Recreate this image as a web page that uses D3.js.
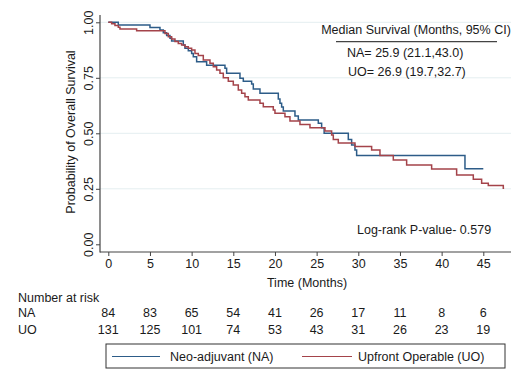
<!DOCTYPE html>
<html><head><meta charset="utf-8">
<script src="https://cdn.jsdelivr.net/npm/d3@7"></script>
<style>
html,body{margin:0;padding:0;background:#fff;}
text{font-family:"Liberation Sans",Arial,sans-serif;fill:#1a1a1a;}
</style></head>
<body><svg id="c" width="522" height="381"></svg>
<script>
// ---- data ----
const xTicks = [0,5,10,15,20,25,30,35,40,45];
const yTicks = [0,0.25,0.5,0.75,1];
const naTimes = [0,1.2,5.0,6.2,6.6,7.0,7.4,7.6,9.0,9.2,9.6,10.0,10.2,10.6,11.8,14.0,14.2,15.8,16.2,17.2,17.4,18.2,20.4,20.6,20.8,21.0,22.4,22.8,25.2,25.6,25.9,28.8,29.2,29.6,29.8,42.8,45.0];
const naSurv  = [1,0.988,0.977,0.965,0.953,0.940,0.928,0.916,0.898,0.883,0.872,0.860,0.845,0.822,0.807,0.793,0.770,0.748,0.735,0.722,0.700,0.680,0.655,0.635,0.618,0.600,0.578,0.560,0.545,0.525,0.500,0.472,0.447,0.425,0.400,0.340,0.340];
const uoTimes = [0,0.4,0.8,1.2,1.4,3.4,6.8,7.2,7.6,8.0,8.4,8.8,9.2,9.6,10.0,10.4,10.8,11.4,12.2,12.6,13.0,13.4,13.8,14.4,15.0,15.6,16.0,16.4,16.8,18.2,18.6,19.8,20.0,21.2,21.8,23.0,24.2,26.0,26.8,27.0,27.6,29.6,31.6,32.6,34.2,35.8,38.8,41.8,43.8,44.8,45.6,47.4,47.5];
const uoSurv  = [1,0.993,0.986,0.978,0.970,0.962,0.950,0.935,0.925,0.913,0.905,0.898,0.890,0.883,0.875,0.860,0.850,0.830,0.815,0.800,0.785,0.770,0.750,0.735,0.718,0.695,0.680,0.665,0.650,0.635,0.620,0.605,0.590,0.575,0.555,0.540,0.525,0.510,0.492,0.472,0.456,0.440,0.425,0.400,0.380,0.357,0.339,0.312,0.293,0.275,0.265,0.252,0.252];
const riskNA = [84,83,65,54,41,26,17,11,8,6];
const riskUO = [131,125,101,74,53,43,31,26,23,19];
const groups = ["NA","UO"];
const legendLabels = ["Neo-adjuvant (NA)","Upfront Operable (UO)"];
const colors = ["#2d5c88","#a4434a"];

// ---- chart ----
const FS = 12.5;
const svg = d3.select("#c");
const x = d3.scaleLinear().domain([0,45]).range([108.3,483.3]);
const y = d3.scaleLinear().domain([0,1]).range([244.3,22.3]);
const axL = 100, axB = 252, axR = 511, axT = 15;

// gridlines
svg.append("g").selectAll("line").data(yTicks.filter(d=>d>0)).join("line")
  .attr("x1",axL).attr("x2",axR).attr("y1",d=>y(d)).attr("y2",d=>y(d))
  .attr("stroke","#e4eef0").attr("stroke-width",1);

// axes
const ya = svg.append("g").attr("transform",`translate(${axL},0)`)
  .call(d3.axisLeft(y).tickValues(yTicks).tickFormat(d3.format(".2f")).tickSize(4).tickSizeOuter(0));
ya.select(".domain").remove();
ya.selectAll(".tick line").attr("stroke","#444");
ya.selectAll(".tick text").attr("font-size",FS).attr("text-anchor","middle")
  .attr("x",0).attr("y",0).attr("dy","0").attr("transform","translate(-7,0) rotate(-90)");
const xa = svg.append("g").attr("transform",`translate(0,${axB})`)
  .call(d3.axisBottom(x).tickValues(xTicks).tickSize(4).tickSizeOuter(0));
xa.select(".domain").remove();
xa.selectAll(".tick line").attr("stroke","#444");
xa.selectAll(".tick text").attr("font-size",FS).attr("y",7).attr("dy","0.71em");
svg.append("line").attr("x1",axL).attr("x2",axL).attr("y1",axT).attr("y2",axB+0.5).attr("stroke","#444").attr("stroke-width",1.2);
svg.append("line").attr("x1",axL).attr("x2",axR).attr("y1",axB).attr("y2",axB).attr("stroke","#444").attr("stroke-width",1.2);

// titles
svg.append("text").attr("x",307).attr("y",287).attr("text-anchor","middle").attr("font-size",FS).text("Time (Months)");
svg.append("text").attr("transform","translate(75,132) rotate(-90)").attr("text-anchor","middle").attr("font-size",FS).text("Probability of Overall Survival");

// curves
const line = d3.line().x(d=>x(d[0])).y(d=>y(d[1])).curve(d3.curveStepAfter);
[[naTimes,naSurv],[uoTimes,uoSurv]].forEach((s,i)=>{
  svg.append("path").datum(s[0].map((t,j)=>[t,s[1][j]]))
    .attr("d",line).attr("fill","none").attr("stroke",colors[i]).attr("stroke-width",1.5);
});

// annotations
svg.append("text").attr("x",416).attr("y",34).attr("text-anchor","middle").attr("font-size",FS).text("Median Survival (Months, 95% CI)");
svg.append("line").attr("x1",336).attr("x2",497).attr("y1",41.7).attr("y2",41.7).attr("stroke","#444").attr("stroke-width",1.2);
svg.append("text").attr("x",347).attr("y",57).attr("font-size",FS).text("NA= 25.9 (21.1,43.0)");
svg.append("text").attr("x",348).attr("y",76).attr("font-size",FS).text("UO= 26.9 (19.7,32.7)");
svg.append("text").attr("x",357).attr("y",234).attr("font-size",FS).text("Log-rank P-value- 0.579");

// number at risk
svg.append("text").attr("x",18).attr("y",302).attr("font-size",FS).text("Number at risk");
[riskNA,riskUO].forEach((r,i)=>{
  const yy = 317 + i*17;
  svg.append("text").attr("x",18).attr("y",yy).attr("font-size",FS).text(groups[i]);
  svg.append("g").selectAll("text").data(r).join("text")
    .attr("x",(d,j)=>x(xTicks[j])).attr("y",yy).attr("text-anchor","middle").attr("font-size",FS).text(d=>d);
});

// legend
svg.append("rect").attr("x",106).attr("y",344).attr("width",399).attr("height",24)
  .attr("fill","#fff").attr("stroke","#333").attr("stroke-width",1);
const lx = [[112,160,170],[302,352,358]];
lx.forEach((p,i)=>{
  svg.append("line").attr("x1",p[0]).attr("x2",p[1]).attr("y1",356.5).attr("y2",356.5).attr("stroke",colors[i]).attr("stroke-width",1.2);
  svg.append("text").attr("x",p[2]).attr("y",361).attr("font-size",FS).text(legendLabels[i]);
});
</script></body></html>
